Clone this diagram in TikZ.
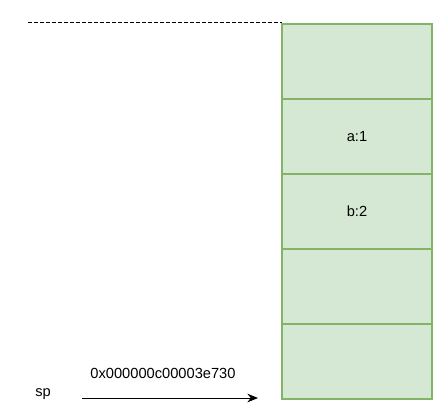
\documentclass[tikz,border=0pt]{standalone}
\usepackage{fontspec}
\setmainfont{Liberation Sans}
\usepackage{xcolor}
\usetikzlibrary{arrows.meta,positioning}

\definecolor{cellfill}{HTML}{D5E8D4}
\definecolor{celldraw}{HTML}{82B366}

\begin{document}
\begin{tikzpicture}[
		x=0.75pt, y=-0.75pt,
		font=\fontsize{11}{13}\selectfont,
		cell/.style={rectangle, draw=celldraw, fill=cellfill, line width=1.1pt, minimum width=112.5pt, minimum height=56.25pt, inner sep=0pt, outer sep=0pt, anchor=north west},
		arrow/.style={-{Stealth[length=8pt,width=6.5pt]}, line width=0.7pt},
		boundary/.style={line width=0.7pt, dash pattern=on 3pt off 1.5pt}
	]
		\useasboundingbox (0,0) rectangle (445,411);
		
		% Stack cells
		\node[cell] (cell1) at (282,24) {};
		\node[cell] (cell2) at (282,99) {a:1};
		\node[cell] (cell3) at (282,174) {b:2};
		\node[cell] (cell4) at (282,249) {};
		\node[cell] (cell5) at (282,324) {};
		
		% Stack top
		\coordinate (topleft) at (28,22);
		\draw[boundary] (topleft) -- (cell1.north west |- topleft);
		
		% Stack pointer
		\node (sp) at (43,394) {sp};
		\coordinate (spstart) at (82,398);
		\coordinate (spend) at (258,398);
		\draw[arrow] (spstart) -- (spend);
		\node (addr) at (163,373) {0x000000c00003e730};
	\end{tikzpicture}
\end{document}
